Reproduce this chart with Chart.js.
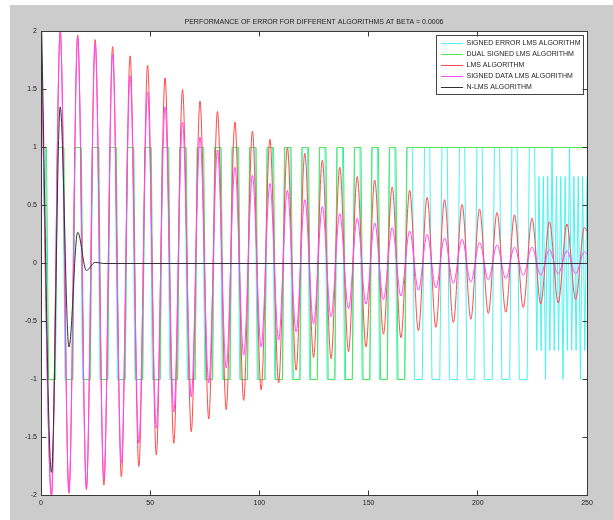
<!DOCTYPE html>
<html><head><meta charset="utf-8">
<script src="https://cdn.jsdelivr.net/npm/chart.js@4.4.1/dist/chart.umd.min.js"></script>
<style>html,body{margin:0;padding:0;background:#fff;}canvas{display:block;}</style>
</head><body><canvas id="c" width="613" height="520"></canvas>
<script>
const titleText = 'PERFORMANCE OF ERROR FOR DIFFERENT ALGORITHMS AT BETA = 0.0006';
const seriesNames = ['SIGNED ERROR LMS ALGORITHM','DUAL SIGNED LMS ALGORITHM','LMS ALGORITHM','SIGNED DATA LMS ALGORITHM','N-LMS ALGORITHM'];
const xTickValues = [0, 50, 100, 150, 200, 250];
const xTickLabels = ['0', '50', '100', '150', '200', '250'];
const yTickValues = [-2, -1.5, -1, -0.5, 0, 0.5, 1, 1.5, 2];
const yTickLabels = ['-2', '-1.5', '-1', '-0.5', '0', '0.5', '1', '1.5', '2'];

// peaks / troughs of the oscillating errors (x positions shared by LMS and signed-data LMS)
const waveX = [0, 4.8, 8.8, 12.8, 16.8, 20.8, 24.8, 28.8, 32.8, 36.8, 40.8, 44.8, 48.8, 52.8, 56.8, 60.8, 64.8, 68.8, 72.8, 76.8, 80.8, 84.8, 88.8, 92.8, 96.8, 100.8, 104.8, 108.8, 112.8, 116.8, 120.8, 124.8, 128.8, 132.8, 136.8, 140.8, 144.8, 148.8, 152.8, 156.8, 160.8, 164.8, 168.8, 172.8, 176.8, 180.8, 184.8, 188.8, 192.8, 196.8, 200.8, 204.8, 208.8, 212.8, 216.8, 220.8, 224.8, 228.8, 232.8, 236.8, 240.8, 244.8, 248.8, 250];
const lmsY = [2.0, -2.0, 2.0, -1.98, 1.97, -1.95, 1.93, -1.91, 1.87, -1.84, 1.79, -1.75, 1.71, -1.65, 1.60, -1.55, 1.50, -1.45, 1.40, -1.34, 1.31, -1.26, 1.22, -1.18, 1.14, -1.09, 1.07, -1.03, 1.00, -0.92, 0.95, -0.81, 0.89, -0.82, 0.83, -0.76, 0.75, -0.72, 0.72, -0.61, 0.66, -0.64, 0.63, -0.58, 0.57, -0.55, 0.55, -0.51, 0.51, -0.48, 0.47, -0.43, 0.44, -0.42, 0.42, -0.38, 0.39, -0.35, 0.36, -0.34, 0.34, -0.31, 0.31, 0.28];
const signedDataY = [2.0, -2.0, 2.0, -1.97, 1.95, -1.93, 1.90, -1.86, 1.80, -1.72, 1.62, -1.55, 1.48, -1.42, 1.35, -1.28, 1.22, -1.15, 1.09, -1.03, 0.98, -0.90, 0.83, -0.79, 0.76, -0.72, 0.69, -0.66, 0.63, -0.59, 0.55, -0.52, 0.49, -0.46, 0.43, -0.39, 0.39, -0.35, 0.35, -0.31, 0.31, -0.28, 0.28, -0.23, 0.25, -0.21, 0.22, -0.17, 0.21, -0.16, 0.18, -0.14, 0.16, -0.13, 0.14, -0.10, 0.14, -0.10, 0.12, -0.09, 0.11, -0.09, 0.10, 0.08];
const nlmsX = [0, 4.8, 8.8, 12.8, 16.8, 20.8, 24.8, 28.8, 250];
const nlmsY = [2.3, -1.8, 1.35, -0.72, 0.27, -0.06, 0.01, 0, 0];

// sign-type errors: corner points of the square waves
const dualSignedX = [0, 2.5, 3.5, 6.5, 7.5, 10.5, 11.5, 14.5, 15.5, 18.5, 19.5, 22.5, 23.5, 26.5, 27.5, 30.5, 31.5, 34.5, 35.5, 38.5, 39.5, 42.5, 43.5, 46.5, 47.5, 50.5, 51.5, 54.5, 55.5, 58.5, 59.5, 62.5, 63.5, 66.5, 67.5, 70.5, 71.5, 74.5, 75.5, 78.5, 79.5, 82.5, 83.5, 86.5, 87.5, 90.5, 91.5, 94.5, 95.5, 98.5, 99.5, 102.5, 103.5, 106.5, 107.5, 110.5, 111.5, 114.5, 115.5, 118.5, 119.5, 122.5, 123.5, 126.5, 127.5, 130.5, 131.5, 134.5, 135.5, 138.5, 139.5, 142.5, 143.5, 146.5, 147.5, 150.5, 151.5, 154.5, 155.5, 158.5, 159.5, 162.5, 163.5, 166.5, 167.5, 250];
const dualSignedY = [1, 1, -1, -1, 1, 1, -1, -1, 1, 1, -1, -1, 1, 1, -1, -1, 1, 1, -1, -1, 1, 1, -1, -1, 1, 1, -1, -1, 1, 1, -1, -1, 1, 1, -1, -1, 1, 1, -1, -1, 1, 1, -1, -1, 1, 1, -1, -1, 1, 1, -1, -1, 1, 1, -1, -1, 1, 1, -1, -1, 1, 1, -1, -1, 1, 1, -1, -1, 1, 1, -1, -1, 1, 1, -1, -1, 1, 1, -1, -1, 1, 1, -1, -1, 1, 1];
const signedErrorX = [0, 2, 3, 6.6, 7.6, 10, 11, 14.6, 15.6, 18, 19, 22.6, 23.6, 26, 27, 30.6, 31.6, 34, 35, 38.6, 39.6, 42, 43, 46.6, 47.6, 50, 51, 54.6, 55.6, 58, 59, 62.6, 63.6, 66, 67, 70.6, 71.6, 74, 75, 78.6, 79.6, 82, 83, 86.6, 87.6, 90, 91, 94.6, 95.6, 98, 99, 102.6, 103.6, 106, 107, 110.6, 111.6, 114, 115, 118.6, 119.6, 122, 123, 126.6, 127.6, 130, 131, 134.6, 135.6, 138, 139, 142.6, 143.6, 146, 147, 150.6, 151.6, 154, 155, 158.6, 159.6, 162, 163, 166.6, 167.6, 170, 171, 174.6, 175.6, 178, 179, 182.6, 183.6, 186, 187, 190.6, 191.6, 194, 195, 198.6, 199.6, 202, 203, 206.6, 207.6, 210, 211, 214.6, 215.6, 218, 219, 222.6, 223.6, 226, 227, 228, 229, 230, 231, 232, 233, 234, 235, 236, 237, 238, 239, 240, 241, 242, 243, 244, 245, 246, 247, 248, 249, 250];
const signedErrorY = [1, 1, -1, -1, 1, 1, -1, -1, 1, 1, -1, -1, 1, 1, -1, -1, 1, 1, -1, -1, 1, 1, -1, -1, 1, 1, -1, -1, 1, 1, -1, -1, 1, 1, -1, -1, 1, 1, -1, -1, 1, 1, -1, -1, 1, 1, -1, -1, 1, 1, -1, -1, 1, 1, -1, -1, 1, 1, -1, -1, 1, 1, -1, -1, 1, 1, -1, -1, 1, 1, -1, -1, 1, 1, -1, -1, 1, 1, -1, -1, 1, 1, -1, -1, 1, 1, -1, -1, 1, 1, -1, -1, 1, 1, -1, -1, 1, 1, -1, -1, 1, 1, -1, -1, 1, 1, -1, -1, 1, 1, -1, -1, 1, 1, -0.75, 0.75, -0.75, 0.75, -1, 0.75, -0.75, 1, -0.75, 0.75, -0.75, 0.75, -1, 0.75, -0.75, 1, -0.75, 0.75, -0.75, 0.75, -1, 0.75, -0.75, 0.75];

const colors = ['#48f4f4', '#4ee84e', '#ff4a4a', '#ff48ff', '#333333'];
const FONT = 'Liberation Sans, Arial, sans-serif';

function pts(xs, ys) { return xs.map((x, i) => ({x: x, y: ys[i]})); }

const datasets = [
  {label: seriesNames[0], data: pts(signedErrorX, signedErrorY), borderColor: colors[0], order: 4},
  {label: seriesNames[1], data: pts(dualSignedX, dualSignedY), borderColor: colors[1], order: 3},
  {label: seriesNames[2], data: pts(waveX, lmsY), borderColor: colors[2], order: 2, cubicInterpolationMode: 'monotone'},
  {label: seriesNames[3], data: pts(waveX, signedDataY), borderColor: colors[3], order: 1, cubicInterpolationMode: 'monotone'},
  {label: seriesNames[4], data: pts(nlmsX, nlmsY), borderColor: colors[4], order: 0, cubicInterpolationMode: 'monotone'}
];
datasets.forEach(d => { d.borderWidth = 1; d.pointRadius = 0; d.fill = false; d.pointStyle = 'line'; d.backgroundColor = d.borderColor; });

const framePlugin = {
  id: 'frame',
  beforeDraw(chart) {
    const {ctx, width, height, chartArea: a} = chart;
    ctx.save();
    ctx.fillStyle = '#ffffff'; ctx.fillRect(0, 0, width, height);
    ctx.fillStyle = '#cccccc'; ctx.fillRect(10, 5, width - 10, height - 5);
    ctx.fillStyle = '#ffffff'; ctx.fillRect(a.left, a.top, a.right - a.left, a.bottom - a.top);
    ctx.restore();
  },
  afterLayout(chart) {
    const lg = chart.legend;
    if (!lg) return;
    const w = lg.width, h = lg.height;
    lg.left = 437; lg.top = 36; lg.right = lg.left + w; lg.bottom = lg.top + h;
  },
  afterDraw(chart) {
    const {ctx, chartArea: a, scales} = chart;
    ctx.save();
    ctx.strokeStyle = '#3a3a3a'; ctx.lineWidth = 1;
    const L = Math.floor(a.left) + 0.5, R = Math.floor(a.right) + 0.5, T = Math.floor(a.top) + 0.5, B = Math.floor(a.bottom) + 0.5;
    ctx.strokeRect(L, T, R - L, B - T);
    ctx.beginPath();
    xTickValues.forEach(v => {
      const p = Math.floor(scales.x.getPixelForValue(v)) + 0.5;
      ctx.moveTo(p, B); ctx.lineTo(p, B - 5);
      ctx.moveTo(p, T); ctx.lineTo(p, T + 5);
    });
    yTickValues.forEach(v => {
      const p = Math.floor(scales.y.getPixelForValue(v)) + 0.5;
      ctx.moveTo(L, p); ctx.lineTo(L + 5, p);
      ctx.moveTo(R, p); ctx.lineTo(R - 5, p);
    });
    ctx.stroke();
    // legend box
    ctx.strokeStyle = '#444';
    ctx.strokeRect(436.5, 35.5, 147, 59);
    ctx.restore();
  }
};

new Chart(document.getElementById('c'), {
  type: 'line',
  data: {datasets: datasets},
  plugins: [framePlugin],
  options: {
    responsive: false,
    animation: false,
    layout: {padding: {left: 0, right: 26, top: 0, bottom: 0}},
    scales: {
      x: {
        type: 'linear', min: 0, max: 250,
        afterBuildTicks: s => { s.ticks = xTickValues.map(v => ({value: v})); },
        afterFit: s => { s.height = 24.5; },
        ticks: {autoSkip: false, maxRotation: 0, padding: 3, color: '#222', font: {family: FONT, size: 7},
                callback: (v) => xTickLabels[xTickValues.indexOf(v)]},
        grid: {display: false, drawTicks: false},
        border: {display: false}
      },
      y: {
        type: 'linear', min: -2, max: 2,
        afterBuildTicks: s => { s.ticks = yTickValues.map(v => ({value: v})); },
        afterFit: s => { s.width = 41; },
        ticks: {autoSkip: false, padding: 4, color: '#222', font: {family: FONT, size: 7},
                callback: (v) => yTickLabels[yTickValues.indexOf(v)]},
        grid: {display: false, drawTicks: false},
        border: {display: false}
      }
    },
    plugins: {
      title: {display: true, text: titleText, fullSize: false, color: '#222',
              font: {family: FONT, size: 7, weight: 'normal', lineHeight: 1.2},
              padding: {top: 18, bottom: 5.1}},
      legend: {
        display: true, position: 'chartArea', align: 'start',
        labels: {usePointStyle: true, pointStyle: 'line', pointStyleWidth: 22, boxHeight: 7,
                 padding: 4, color: '#222', font: {family: FONT, size: 7},
                 sort: (a, b) => a.datasetIndex - b.datasetIndex}
      },
      tooltip: {enabled: false}
    }
  }
});
</script></body></html>
